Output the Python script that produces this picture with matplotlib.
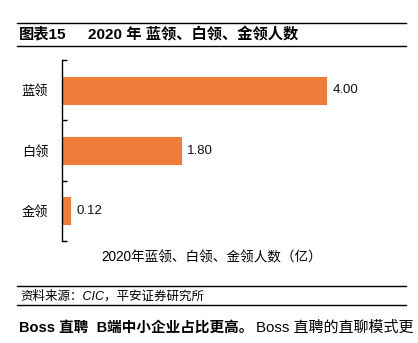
import matplotlib
matplotlib.use("Agg")
import matplotlib.pyplot as plt
from matplotlib.lines import Line2D

FAM = ['Liberation Sans', 'Noto Sans CJK SC', 'DejaVu Sans']
plt.rcParams['font.family'] = FAM

categories = ["蓝领", "白领", "金领"]
values = [4.00, 1.80, 0.12]
value_labels = ["4.00", "1.80", "0.12"]
title_a = "图表15"
title_b = "2020 年 蓝领、白领、金领人数"
xlabel = "2020年蓝领、白领、金领人数（亿）"
source = "资料来源：CIC，平安证券研究所"
body_bold = "Boss 直聘  B端中小企业占比更高。"
body_rest = "Boss 直聘的直聊模式更"

W, H = 418, 343
fig = plt.figure(figsize=(W / 100, H / 100), dpi=100)

def fx(px):
    return px / W

def fy(py):
    return 1 - py / H

# Header rules and title
for y in (22.5, 45.5):
    fig.add_artist(Line2D([fx(17), fx(406)], [fy(y), fy(y)], color="black", lw=1.0))
fig.text(fx(19), fy(34), title_a, fontsize=11, fontweight="bold", va="center", ha="left")
fig.text(fx(88), fy(34), title_b, fontsize=11, fontweight="bold", va="center", ha="left")

# Axes
ax = fig.add_axes([fx(62), fy(241), fx(362) - fx(62), fy(60) - fy(241)])
bar_color = "#ED7D38"
ypos = list(range(len(categories)))
ax.barh(ypos, values, height=0.45, color=bar_color, edgecolor=bar_color,
        linewidth=0.8, joinstyle="round")
ax.set_ylim(2.5, -0.5)
ax.set_xlim(0, 4.55)
for y, v, lab in zip(ypos, values, value_labels):
    ax.text(v + 0.1, y, lab, va="center", ha="left", fontsize=9.5, color="#111111")

ax.set_yticks(ypos)
ax.set_yticklabels(categories, fontsize=9.5)
ax.tick_params(axis="y", which="major", length=0, pad=10)
ax.set_yticks([-0.5, 0.5, 1.5, 2.5], minor=True)
ax.tick_params(axis="y", which="minor", direction="in", length=3.5, width=1.0)
ax.set_xticks([])
for s in ("top", "right", "bottom"):
    ax.spines[s].set_visible(False)
ax.spines["left"].set_linewidth(1.0)
ax.set_xlabel(xlabel, fontsize=9.8, labelpad=7)

# Footer
for y in (285.5, 304.5):
    fig.add_artist(Line2D([fx(17), fx(406)], [fy(y), fy(y)], color="black", lw=1.0))
fig.text(fx(20), fy(296), source, fontsize=9, va="center", ha="left", style="italic")

t1 = fig.text(fx(19), fy(328), body_bold, fontsize=10.5, fontweight="bold", va="center", ha="left")
fig.canvas.draw()
bb = t1.get_window_extent()
fig.text(bb.x1 / W + fx(3), fy(328), body_rest, fontsize=10.8, va="center", ha="left")

fig.savefig("out.png", dpi=100)
